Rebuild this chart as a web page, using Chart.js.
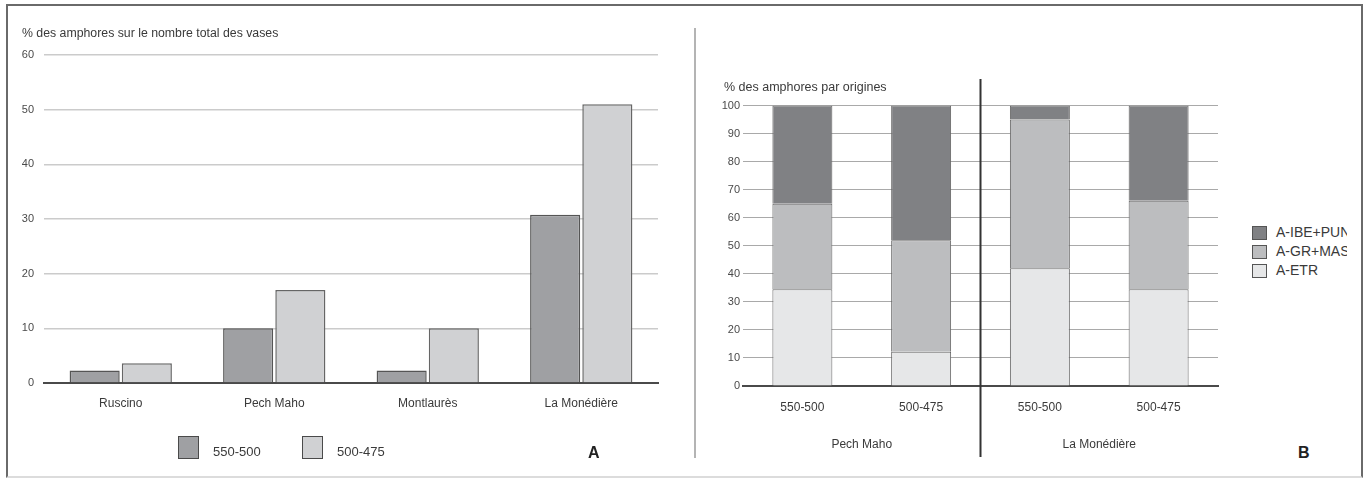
<!DOCTYPE html>
<html>
<head>
<meta charset="utf-8">
<script src="https://cdn.jsdelivr.net/npm/chart.js@4/dist/chart.umd.min.js"></script>
<style>
  html, body { margin: 0; padding: 0; background: #fff; }
  body { width: 1369px; height: 480px; position: relative; overflow: hidden; font-family: "Liberation Sans", Arial, sans-serif; color: #3a3a3a; }
  .frame { position: absolute; left: 6px; top: 4px; width: 1357px; height: 474px; border: 2px solid #6a6a6a; border-bottom-color: #dcdcdc; box-sizing: border-box; }
  .sep { position: absolute; left: 694px; top: 28px; width: 2px; height: 430px; background: #b4b4b4; }
  .box { position: absolute; }
  .txt { position: absolute; white-space: nowrap; line-height: 1; }
  .letter { position: absolute; font-weight: bold; font-size: 16px; color: #222; line-height: 1; }
  .lg-item { position: absolute; white-space: nowrap; line-height: 1; }
  .lg-sw { position: absolute; box-sizing: border-box; }
</style>
</head>
<body>
<div class="frame"></div>
<div class="sep"></div>

<div class="box" style="left:0;top:0;width:690px;height:480px;"><canvas id="chartA"></canvas></div>
<div class="box" style="left:700px;top:0;width:540px;height:480px;"><canvas id="chartB"></canvas></div>

<div class="txt" style="left:22px;top:27px;font-size:12.3px;">% des amphores sur le nombre total des vases</div>
<div class="txt" style="left:724px;top:81px;font-size:12.5px;">% des amphores par origines</div>
<div class="letter" style="left:588px;top:445px;">A</div>
<div class="letter" style="left:1298px;top:445px;">B</div>

<div id="legendA"></div>
<div id="legendB" style="position:absolute;left:1250px;top:222px;width:97px;height:60px;overflow:hidden;"></div>

<script>
  // Graphique A : % des amphores sur le nombre total des vases
  const sitesA = ['Ruscino', 'Pech Maho', 'Montlaurès', 'La Monédière'];
  const periods = ['550-500', '500-475'];
  const amph550 = [2.3, 10, 2.3, 30.8];
  const amph500 = [3.6, 17, 10, 51];
  const ticksA = [0, 10, 20, 30, 40, 50, 60];

  // Graphique B : % des amphores par origines
  const periodsB = ['550-500', '500-475', '550-500', '500-475'];
  const groupsB = ['Pech Maho', 'La Monédière'];
  const origins = ['A-ETR', 'A-GR+MAS', 'A-IBE+PUN'];
  const etr = [34.5, 12.2, 42, 34.5];
  const grMas = [30.5, 39.8, 53, 31.5];
  const ibePun = [35, 48, 5, 34];
  const ticksB = [0, 10, 20, 30, 40, 50, 60, 70, 80, 90, 100];

  const FONT = '"Liberation Sans", Arial, sans-serif';
  Chart.defaults.font.family = FONT;
  Chart.defaults.color = '#3a3a3a';

  const fixedY = w => function (scale) { scale.width = w; };
  const fixedX = h => function (scale) { scale.height = h; };

  const chartA = new Chart(document.getElementById('chartA'), {
    type: 'bar',
    data: {
      labels: sitesA,
      datasets: [
        { label: periods[0], data: amph550, backgroundColor: '#9fa0a3', borderColor: '#555', borderWidth: 1.5 },
        { label: periods[1], data: amph500, backgroundColor: '#d0d1d3', borderColor: '#666', borderWidth: 1.5 }
      ]
    },
    options: {
      responsive: true,
      maintainAspectRatio: false,
      animation: false,
      layout: { padding: { top: 55, right: 32, left: 0, bottom: 0 } },
      datasets: { bar: { categoryPercentage: 0.68, barPercentage: 0.96 } },
      plugins: { legend: { display: false }, tooltip: { enabled: false } },
      scales: {
        x: {
          afterFit: fixedX(97),
          grid: { display: false, drawTicks: false },
          border: { display: true, color: '#4a4a4a', width: 2 },
          ticks: { padding: 13, font: { size: 12 }, color: '#3a3a3a' }
        },
        y: {
          min: 0, max: 60,
          afterFit: fixedY(44),
          afterBuildTicks: s => { s.ticks = ticksA.map(v => ({ value: v })); },
          grid: { color: '#cbcbcb', lineWidth: 1.5, drawTicks: false },
          border: { display: false },
          ticks: { padding: 10, font: { size: 11 }, color: '#4a4a4a' }
        }
      }
    }
  });

  const dividerPlugin = {
    id: 'groupDivider',
    afterDraw(chart) {
      const { ctx } = chart;
      const x = chart.scales.x;
      const mid = (x.getPixelForTick(1) + x.getPixelForTick(2)) / 2;
      ctx.save();
      ctx.strokeStyle = '#333';
      ctx.lineWidth = 2;
      ctx.beginPath();
      ctx.moveTo(mid, 79);
      ctx.lineTo(mid, 457);
      ctx.stroke();
      // libellés des sites sous les périodes
      ctx.fillStyle = '#3a3a3a';
      ctx.font = '12px ' + FONT;
      ctx.textAlign = 'center';
      ctx.textBaseline = 'middle';
      groupsB.forEach((g, i) => {
        const cx = (x.getPixelForTick(i * 2) + x.getPixelForTick(i * 2 + 1)) / 2;
        ctx.fillText(g, cx, 445);
      });
      ctx.restore();
    }
  };

  const chartB = new Chart(document.getElementById('chartB'), {
    type: 'bar',
    data: {
      labels: periodsB,
      datasets: [
        { label: origins[0], data: etr, backgroundColor: '#e6e7e8', borderColor: '#666', borderWidth: 1 },
        { label: origins[1], data: grMas, backgroundColor: '#bcbdbf', borderColor: '#666', borderWidth: 1 },
        { label: origins[2], data: ibePun, backgroundColor: '#808184', borderColor: '#666', borderWidth: 1 }
      ]
    },
    options: {
      responsive: true,
      maintainAspectRatio: false,
      animation: false,
      layout: { padding: { top: 105.5, right: 22, left: 0, bottom: 0 } },
      datasets: { bar: { categoryPercentage: 1, barPercentage: 0.505 } },
      plugins: { legend: { display: false }, tooltip: { enabled: false } },
      scales: {
        x: {
          stacked: true,
          afterFit: fixedX(94),
          grid: { display: false, drawTicks: false },
          border: { display: true, color: '#4a4a4a', width: 2 },
          ticks: { padding: 14, font: { size: 12 }, color: '#3a3a3a' }
        },
        y: {
          stacked: true,
          min: 0, max: 100,
          afterFit: fixedY(43),
          afterBuildTicks: s => { s.ticks = ticksB.map(v => ({ value: v })); },
          grid: { color: '#a9a9a9', lineWidth: 1, drawTicks: false },
          border: { display: false },
          ticks: { padding: 3, font: { size: 11 }, color: '#4a4a4a' }
        }
      }
    },
    plugins: [dividerPlugin]
  });

  // légendes construites à partir des jeux de données
  const legendA = document.getElementById('legendA');
  const posA = [178, 302];
  chartA.data.datasets.forEach((ds, i) => {
    legendA.insertAdjacentHTML('beforeend',
      `<div class="lg-sw" style="left:${posA[i]}px;top:436px;width:21px;height:23px;background:${ds.backgroundColor};border:1.5px solid #4a4a4a;"></div>` +
      `<div class="lg-item" style="left:${posA[i] + 35}px;top:445px;font-size:13px;">${ds.label}</div>`);
  });

  const legendB = document.getElementById('legendB');
  chartB.data.datasets.slice().reverse().forEach((ds, i) => {
    const top = i * 19;
    legendB.insertAdjacentHTML('beforeend',
      `<div class="lg-sw" style="left:2px;top:${4 + top}px;width:15px;height:14px;background:${ds.backgroundColor};border:1px solid #555;"></div>` +
      `<div class="lg-item" style="left:26px;top:${3 + top}px;font-size:14px;">${ds.label}</div>`);
  });
</script>
</body>
</html>
